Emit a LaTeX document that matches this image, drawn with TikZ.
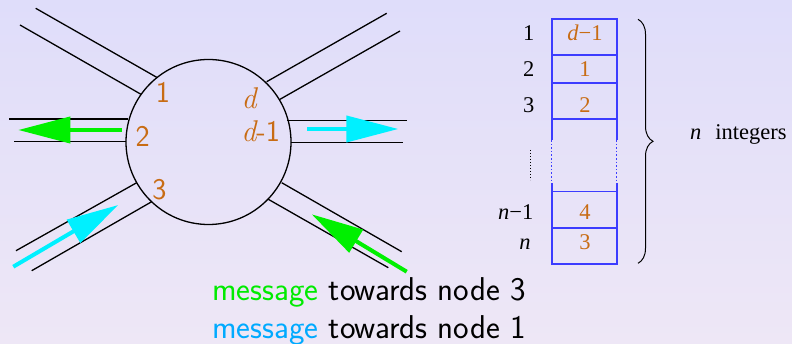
\documentclass[tikz,border=0pt]{standalone}
\usepackage{fontspec}
\newfontfamily\tms{Liberation Serif}
\usetikzlibrary{arrows.meta,decorations.pathreplacing}
\definecolor{bgtop}{RGB}{223,221,250}
\definecolor{bgbot}{RGB}{238,231,246}
\definecolor{lblor}{RGB}{200,108,20}
\definecolor{msggreen}{RGB}{0,235,0}
\definecolor{msgblue}{RGB}{0,170,255}
\definecolor{arrgreen}{RGB}{0,240,0}
\definecolor{arrcyan}{RGB}{0,240,255}
\definecolor{tblue}{RGB}{60,60,255}
\newcommand{\itd}{{\rmfamily\itshape d}}
\begin{document}
\begin{tikzpicture}[x=1pt,y=-1pt,
  chan/.style={line width=1.3pt,black},
  msgarrow/.style={line width=4pt,-{Triangle[length=52pt,width=26pt]}},
  portlbl/.style={text=lblor,font=\fontsize{30}{32}\selectfont\sffamily,anchor=base,inner sep=0pt},
  tbl/.style={font=\fontsize{22.5}{25}\selectfont\tms,anchor=base,inner sep=0pt},
  tblo/.style={tbl,text=lblor},
  cell/.style={line width=1.6pt,draw=tblue},
  legend/.style={anchor=base west,inner sep=0pt,font=\fontsize{33}{36}\selectfont\sffamily}]
\shade[top color=bgtop,bottom color=bgbot] (0,0) rectangle (792,344);
\useasboundingbox (0,0) rectangle (792,344);
% node circle
\node[draw,circle,line width=1.3pt,minimum size=165pt,inner sep=0pt] (v) at (208.5,142) {};
% channels
\draw[chan] (35.7,8.3) -- (156.7,77.3);
\draw[chan] (20,25) -- (141,94.3);
\draw[chan] (266.7,81.7) -- (386.7,13.3);
\draw[chan] (280,99.3) -- (400,31);
\draw[chan] (9,119) -- (128,119);
\draw[chan] (14,141.7) -- (126,141.7);
\draw[chan] (287,120.7) -- (406.7,120.7);
\draw[chan] (290.7,142.7) -- (402.7,142.7);
\draw[chan] (16,250.7) -- (136.7,182.7);
\draw[chan] (31.7,270.7) -- (151.7,201.7);
\draw[chan] (281.7,182.7) -- (401.7,251.7);
\draw[chan] (268.3,199.3) -- (388.3,267.7);
% arrows
\coordinate (gLs) at (121.7,130); \coordinate (gLe) at (18.3,130);
\coordinate (cRs) at (307.3,129); \coordinate (cRe) at (398.3,129);
\coordinate (cLLs) at (13.3,266.7); \coordinate (cLLe) at (118.3,205);
\coordinate (gLRs) at (406.7,271.7); \coordinate (gLRe) at (311.7,214.3);
\draw[msgarrow,arrgreen] (gLs) -- (gLe);
\draw[msgarrow,arrcyan] (cRs) -- (cRe);
\draw[msgarrow,arrcyan] (cLLs) -- (cLLe);
\draw[msgarrow,arrgreen] (gLRs) -- (gLRe);
% port labels
\node[portlbl] (p1) at (163,102.7) {1};
\node[portlbl] (p2) at (142.7,146.7) {2};
\node[portlbl] (p3) at (159.3,199.3) {3};
\node[portlbl] (pd) at (249,108.3) {\itd};
\node[portlbl,anchor=base west] (pd1) at (241.2,141.7) {\itd-1};
% table
\draw[cell] (551.7,140) -- (551.7,19.3) -- (616.7,19.3) -- (616.7,140);
\draw[cell] (551.7,55) -- (616.7,55);
\draw[cell] (551.7,83.3) -- (616.7,83.3);
\draw[cell] (551.7,119.3) -- (616.7,119.3);
\draw[cell,dotted,line width=1.2pt] (551.7,140) -- (551.7,183.3);
\draw[cell,dotted,line width=1.2pt] (616.7,140) -- (616.7,183.3);
\draw[cell] (551.7,183.3) -- (551.7,264) -- (616.7,264) -- (616.7,183.3);
\draw[cell] (551.7,191.7) -- (616.7,191.7);
\draw[cell] (551.7,228.3) -- (616.7,228.3);
\node[tbl] (r1) at (528.7,40.7) {1};
\node[tbl] (r2) at (528.7,76.7) {2};
\node[tbl] (r3) at (528.7,112.2) {3};
\node[tbl,anchor=base east] (rn1) at (533.5,219.5) {\itshape n\upshape −1};
\node[tbl] (rn) at (525,249.5) {\itshape n};
\draw[dotted,line width=1pt] (530.7,150) -- (530.7,180);
\node[tblo] (c1) at (585,40.7) {\itshape d\upshape −1};
\node[tblo] (c2) at (585,76.7) {1};
\node[tblo] (c3) at (585,112.2) {2};
\node[tblo] (c4) at (585,219.5) {4};
\node[tblo] (c5) at (585,249.5) {3};
% brace
\draw[decorate,decoration={brace,amplitude=15pt},line width=1pt] (638,19.3) -- (638,263.3);
\node[tbl,anchor=base west] (ni) at (690,140) {\itshape n\upshape\hspace{14pt}integers};
% legend
\node[legend] (m3) at (212,301) {\textcolor{msggreen}{message} towards node 3};
\node[legend] (m1) at (212,338.5) {\textcolor{msgblue}{message} towards node 1};
\end{tikzpicture}
\end{document}
